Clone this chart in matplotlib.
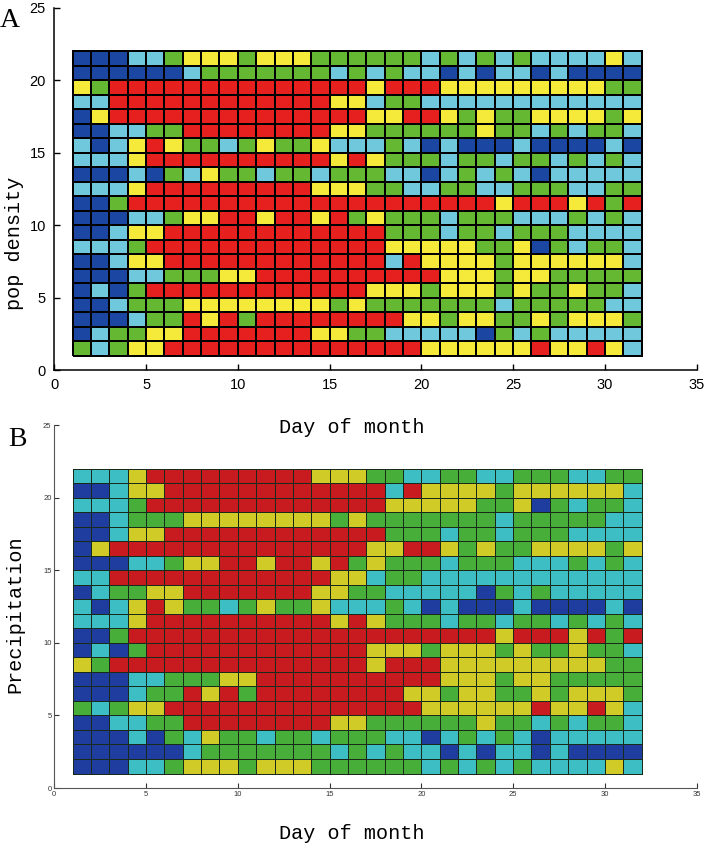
import numpy as np
import matplotlib.pyplot as plt
from matplotlib.colors import ListedColormap

# panel A rows, top (pop density 21-22) to bottom (1-2), days 1..31
# B = dark blue, C = light blue, G = green, Y = yellow, R = red
rows_a = [
    "BBBCCGYYYGYYYGG" + "GGGGCGCGCGCCCCYC",
    "BBBBBBCGGGGGGGC" + "GCGCCBCBCCBCBBBB",
    "YGRRRRRRRRRRRRR" + "RYRRRYYYYYYYYYGG",
    "CCRRRRRRRRRRRRY" + "YCGGCCCCCCCCCCCC",
    "BYRRRRRRRRRRRRR" + "RYYRRYGYGGYYYYGY",
    "BBCCGGRRRRRRRRY" + "YGGGGGGYGGCGCGGC",
    "CBCYRYGGCGYGGYC" + "CCGCBCBBBCBBBBCB",
    "CCCYRRRRRRRRRRY" + "RYGGGCGGCGGCGCGC",
    "BBBCBGCYGGCGGCG" + "GGCCBCGCGCBCCCCC",
    "CCCYRRRRRRRRRYY" + "YGGCCGGCCGGGCCGG",
    "BBGRRRRRRRRRRRR" + "RRRRRRRRYRRRYRGR",
    "BBBCCGYYRRYRRYR" + "GYGGGCGGGCCCGCGC",
    "BBCYYRRRRRRRRRR" + "RRGGGCGGCGGGCCCC",
    "CCCGRRRRRRRRRRR" + "RRYYYYYGGYBGCGGC",
    "BBCYYRRRRRRRRRR" + "RRCRYYYYGYYYYYYC",
    "BBBCCGGGYYRRRRR" + "RRRRRYYYGYYGGGGG",
    "BCBGRRRRRRRRRRR" + "RYYYGYYYGYGGYGGC",
    "BBCGGGYYYYYYYYG" + "YGGGGGGGCGGGGGCC",
    "BBBCGGRYRGRRRRR" + "RRRYYGYYGGYGYYYG",
    "BCGGYYRRRRRRRYY" + "GGCCCCCBGCGCCCCC",
    "GCGYYRRRRRRRRRR" + "RRRRYYYYYYRYYRYC",
]

# panel B shows the same rows re-ordered (index into rows_a, top to bottom)
order_b = [9, 14, 13, 17, 12, 4, 11, 3, 19, 6, 7, 10, 16, 2, 15, 18, 20, 5, 8, 1, 0]

days = np.arange(1, 33)
levels = np.arange(1, 23)
codes = "BCGYR"

colors_a = ["#1B47A2", "#6FC8DC", "#64B832", "#F5EA3A", "#E5201F"]
colors_b = ["#1E3D9E", "#3DBDC4", "#48AE3A", "#D1CB28", "#C71B1F"]


def to_grid(rows):
    # first row of the list is the top one, pcolormesh wants bottom first
    return np.array([[codes.index(c) for c in r] for r in rows[::-1]])


grid_a = to_grid(rows_a)
grid_b = to_grid([rows_a[i] for i in order_b])

plt.rcParams['font.family'] = ['Liberation Sans', 'DejaVu Sans']
label_font = dict(family='Liberation Mono', fontsize=14.5)

fig = plt.figure(figsize=(7.07, 8.5), dpi=100)

# panel A
ax1 = fig.add_axes([0.0768, 0.5647, 0.9086, 0.4259])
ax1.pcolormesh(days, levels, grid_a, cmap=ListedColormap(colors_a), vmin=-0.5, vmax=4.5,
               edgecolors='black', linewidth=1.1)
ax1.set_xlim(0, 35)
ax1.set_ylim(0, 25)
ax1.set_xticks(range(0, 36, 5))
ax1.set_yticks(range(0, 26, 5))
ax1.tick_params(direction='in', length=4, width=1, labelsize=10.5, pad=6)
for s in ['top', 'right']:
    ax1.spines[s].set_visible(False)
for s in ['left', 'bottom']:
    ax1.spines[s].set_linewidth(1.1)
ax1.set_xlabel('Day of month', **label_font)
ax1.xaxis.set_label_coords(0.463, -0.133)
ax1.set_ylabel('pop density', **label_font)
ax1.yaxis.set_label_coords(-0.047, 0.35)
fig.text(0.014, 0.976, 'A', family='Liberation Serif', fontsize=20, va='center', ha='center')

# panel B
ax2 = fig.add_axes([0.0768, 0.0729, 0.9086, 0.4271])
ax2.patch.set_visible(False)  # otherwise it hides the A x label
ax2.pcolormesh(days, levels, grid_b, cmap=ListedColormap(colors_b), vmin=-0.5, vmax=4.5,
               edgecolors='#1a2a1a', linewidth=0.6)
ax2.set_xlim(0, 35)
ax2.set_ylim(0, 25)
ax2.set_xticks(range(0, 36, 5))
ax2.set_yticks(range(0, 26, 5))
ax2.tick_params(direction='in', length=3.5, width=0.8, labelsize=5.5, pad=2, colors='#333333')
for s in ['top', 'right']:
    ax2.spines[s].set_visible(False)
for s in ['left', 'bottom']:
    ax2.spines[s].set_linewidth(0.8)
    ax2.spines[s].set_color('#555555')
ax2.set_xlabel('Day of month', **label_font)
ax2.xaxis.set_label_coords(0.463, -0.099)
ax2.set_ylabel('Precipitation', **label_font)
ax2.yaxis.set_label_coords(-0.047, 0.48)
fig.text(0.024, 0.483, 'B', family='Liberation Serif', fontsize=20, va='center', ha='center')

fig.savefig('out.png', dpi=100)
